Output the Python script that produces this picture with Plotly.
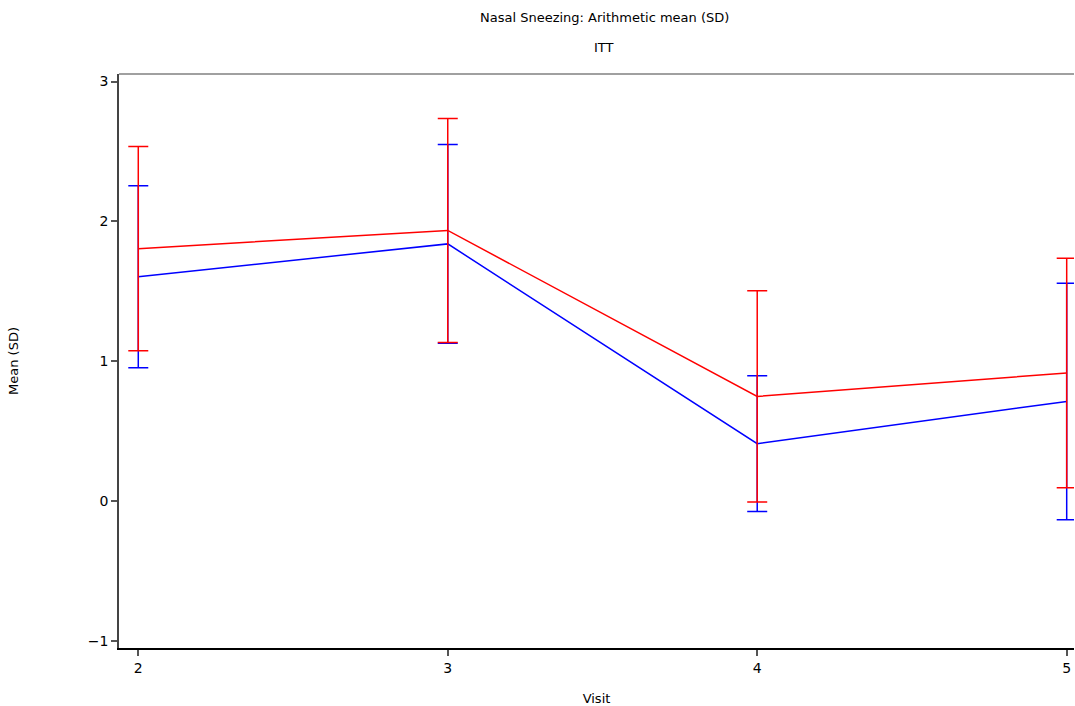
import plotly.graph_objects as go

# Visits and summary statistics per treatment arm
visits = [2, 3, 4, 5]
blue_mean = [1.605, 1.84, 0.412, 0.714]
blue_sd = [0.65, 0.71, 0.485, 0.845]
red_mean = [1.806, 1.936, 0.75, 0.917]
red_sd = [0.73, 0.80, 0.755, 0.82]

x_ticks = [2, 3, 4, 5]
y_ticks = [-1, 0, 1, 2, 3]

FONT = "DejaVu Sans"
FS = 13
TICK_FS = 14

fig = go.Figure()

for mean, sd, color in [(blue_mean, blue_sd, "#0000ff"), (red_mean, red_sd, "#ff0000")]:
    fig.add_trace(go.Scatter(
        x=visits, y=mean, mode="lines",
        line=dict(color=color, width=1.5),
        error_y=dict(type="data", array=sd, visible=True,
                     color=color, thickness=1.5, width=10),
        showlegend=False,
        hoverinfo="x+y",
    ))

fig.update_layout(
    width=1075, height=706,
    margin=dict(l=119, r=1, t=74, b=58),
    paper_bgcolor="white", plot_bgcolor="white",
    font=dict(family=FONT, size=FS, color="black"),
    showlegend=False,
    xaxis=dict(
        range=[1.9377, 5.0236], tickvals=x_ticks,
        showgrid=False, zeroline=False,
        showline=True, linecolor="black", linewidth=1.5,
        ticks="outside", ticklen=6, tickcolor="#555", tickwidth=1.5,
        tickfont=dict(size=TICK_FS),
        title=dict(text="Visit", font=dict(size=FS), standoff=20),
    ),
    yaxis=dict(
        range=[-1.048, 3.054], tickvals=y_ticks,
        showgrid=False, zeroline=False,
        showline=True, linecolor="#444", linewidth=1.5,
        ticks="outside", ticklen=6, tickcolor="#555", tickwidth=1.5,
        tickfont=dict(size=TICK_FS),
        title=dict(text="Mean (SD)", font=dict(size=FS), standoff=66),
    ),
    shapes=[dict(type="line", xref="paper", yref="paper",
                 x0=0, x1=1, y0=1, y1=1,
                 line=dict(color="#808080", width=1.5))],
    annotations=[
        dict(text="Nasal Sneezing: Arithmetic mean (SD)", xref="paper", yref="paper",
             x=0.508, y=1, yshift=57, showarrow=False, xanchor="center",
             yanchor="middle", font=dict(size=FS)),
        dict(text="ITT", xref="paper", yref="paper",
             x=0.508, y=1, yshift=27, showarrow=False, xanchor="center",
             yanchor="middle", font=dict(size=FS)),
    ],
)

fig.write_html("out.html")
